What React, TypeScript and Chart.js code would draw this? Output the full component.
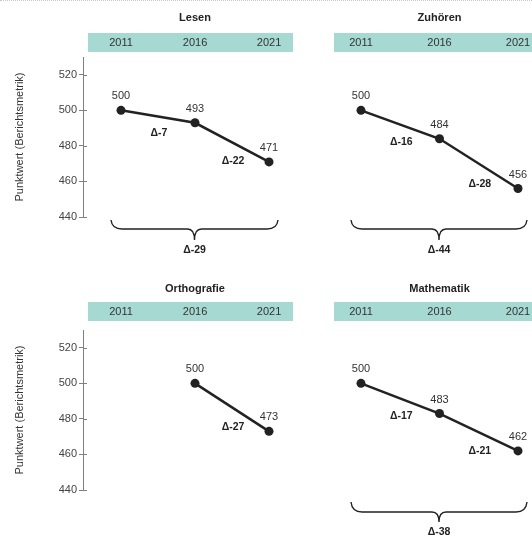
import React, { useEffect, useRef } from "react";
import { Chart, registerables } from "chart.js";

Chart.register(...registerables);

// ---------- data ----------
const years = [2011, 2016, 2021];
const subjectTitles = ["Lesen", "Zuhören", "Orthografie", "Mathematik"];
const lesenValues: (number | null)[] = [500, 493, 471];
const zuhoerenValues: (number | null)[] = [500, 484, 456];
const orthografieValues: (number | null)[] = [null, 500, 473];
const mathematikValues: (number | null)[] = [500, 483, 462];
const lesenSteps: (number | null)[] = [-7, -22];
const zuhoerenSteps: (number | null)[] = [-16, -28];
const orthografieSteps: (number | null)[] = [null, -27];
const mathematikSteps: (number | null)[] = [-17, -21];
const totalChanges: (number | null)[] = [-29, -44, null, -38];
const yTicks = [440, 460, 480, 500, 520];
const yMin = 440;
const yMax = 530;
const yTitle = "Punktwert (Berichtsmetrik)";

// ---------- styling / layout ----------
const FONT = '"Liberation Sans", Arial, sans-serif';
const BAND = "rgb(165, 217, 210)";
const INK = "#222";
const TEXT = "#333";
const AXIS = "#808080";

type Layout = {
  left: number; top: number; w: number; h: number;
  padTop: number; padBottom: number; padLeft: number;
  xMin: number; xMax: number; showY: boolean;
  bandL: number; bandR: number; bandTop: number; bandH: number; titleY: number;
  braceY: number; braceH1: number; braceH2: number;
};

const layouts: Layout[] = [
  { left: 0, top: 0, w: 300, h: 270, padTop: 57, padBottom: 53, padLeft: 0,
    xMin: 2008.432, xMax: 2023.094, showY: true,
    bandL: 88, bandR: 293, bandTop: 33, bandH: 19, titleY: 18,
    braceY: 220, braceH1: 9, braceH2: 11 },
  { left: 300, top: 0, w: 232, h: 270, padTop: 57, padBottom: 53, padLeft: 0,
    xMin: 2007.115, xMax: 2021.892, showY: false,
    bandL: 34, bandR: 260, bandTop: 33, bandH: 19, titleY: 18,
    braceY: 220, braceH1: 9, braceH2: 11 },
  { left: 0, top: 270, w: 300, h: 270, padTop: 60, padBottom: 50, padLeft: 0,
    xMin: 2008.432, xMax: 2023.094, showY: true,
    bandL: 88, bandR: 293, bandTop: 32, bandH: 19, titleY: 19,
    braceY: 232, braceH1: 10, braceH2: 10 },
  { left: 300, top: 270, w: 232, h: 270, padTop: 60, padBottom: 50, padLeft: 0,
    xMin: 2007.115, xMax: 2021.892, showY: false,
    bandL: 34, bandR: 260, bandTop: 32, bandH: 19, titleY: 19,
    braceY: 232, braceH1: 10, braceH2: 10 },
];

const seriesValues = [lesenValues, zuhoerenValues, orthografieValues, mathematikValues];
const seriesSteps = [lesenSteps, zuhoerenSteps, orthografieSteps, mathematikSteps];

function drawBrace(ctx: CanvasRenderingContext2D, x0: number, x1: number, y0: number, h1: number, h2: number) {
  const xc = (x0 + x1) / 2;
  const yl = y0 + h1;
  const r = 11;
  ctx.beginPath();
  ctx.moveTo(x0, y0);
  ctx.quadraticCurveTo(x0 + 1, yl, x0 + r, yl);
  ctx.lineTo(xc - 7, yl);
  ctx.quadraticCurveTo(xc, yl, xc, yl + h2);
  ctx.moveTo(xc, yl + h2);
  ctx.quadraticCurveTo(xc, yl, xc + 7, yl);
  ctx.lineTo(x1 - r, yl);
  ctx.quadraticCurveTo(x1 - 1, yl, x1, y0);
  ctx.stroke();
}

function Panel({ index }: { index: number }) {
  const ref = useRef<HTMLCanvasElement | null>(null);
  const L = layouts[index];
  useEffect(() => {
    if (!ref.current) return;
    const values = seriesValues[index];
    const steps = seriesSteps[index];
    const total = totalChanges[index];
    const title = subjectTitles[index];

    const deco = {
      id: "deco",
      beforeDraw(chart: any) {
        const ctx = chart.ctx as CanvasRenderingContext2D;
        const xs = chart.scales.x;
        ctx.save();
        ctx.fillStyle = BAND;
        ctx.fillRect(L.bandL, L.bandTop, L.bandR - L.bandL, L.bandH);
        ctx.textAlign = "center";
        ctx.textBaseline = "middle";
        ctx.fillStyle = TEXT;
        ctx.font = `11px ${FONT}`;
        years.forEach((y) => ctx.fillText(String(y), xs.getPixelForValue(y), L.bandTop + L.bandH / 2 + 0.5));
        ctx.fillStyle = INK;
        ctx.font = `bold 11px ${FONT}`;
        ctx.fillText(title, xs.getPixelForValue(years[1]), L.titleY);
        ctx.restore();
      },
      afterDraw(chart: any) {
        const ctx = chart.ctx as CanvasRenderingContext2D;
        const ys = chart.scales.y;
        const pts = chart.getDatasetMeta(0).data;
        ctx.save();
        if (L.showY) {
          ctx.strokeStyle = AXIS;
          ctx.lineWidth = 1;
          const ax = chart.chartArea.left;
          yTicks.forEach((v) => {
            const py = Math.round(ys.getPixelForValue(v)) + 0.5;
            ctx.beginPath();
            ctx.moveTo(ax, py);
            ctx.lineTo(ax + 4, py);
            ctx.stroke();
          });
        }
        ctx.textAlign = "center";
        ctx.textBaseline = "middle";
        // value labels
        ctx.fillStyle = TEXT;
        ctx.font = `11px ${FONT}`;
        values.forEach((v, i) => {
          if (v == null) return;
          const p = pts[i];
          ctx.fillText(String(v), p.x, p.y - 14);
        });
        // step deltas
        ctx.fillStyle = INK;
        ctx.font = `bold 10.5px ${FONT}`;
        steps.forEach((d, i) => {
          if (d == null) return;
          const a = pts[i];
          const b = pts[i + 1];
          const mx = (a.x + b.x) / 2 + 1;
          const dy = Math.abs(b.y - a.y);
          const my = (a.y + b.y) / 2 + 15 + 0.1 * dy;
          ctx.fillText(`Δ${d}`, mx, my);
        });
        // total brace
        if (total != null) {
          const valid = values.map((v, i) => (v == null ? -1 : i)).filter((i) => i >= 0);
          const x0 = pts[valid[0]].x - 10;
          const x1 = pts[valid[valid.length - 1]].x + 9;
          ctx.strokeStyle = INK;
          ctx.lineWidth = 1.4;
          drawBrace(ctx, x0, x1, L.braceY, L.braceH1, L.braceH2);
          ctx.fillText(`Δ${total}`, (x0 + x1) / 2, L.braceY + L.braceH1 + L.braceH2 + 10);
        }
        ctx.restore();
      },
    };

    const chart = new Chart(ref.current, {
      type: "line",
      data: {
        datasets: [
          {
            data: years.map((x, i) => ({ x, y: values[i] })) as any,
            borderColor: INK,
            backgroundColor: INK,
            borderWidth: 2.5,
            pointRadius: 4.5,
            pointBackgroundColor: INK,
            pointBorderColor: INK,
            pointBorderWidth: 0,
            tension: 0,
            clip: false as any,
          },
        ],
      },
      options: {
        responsive: false,
        animation: false,
        events: [],
        layout: {
          autoPadding: false,
          padding: { top: L.padTop, bottom: L.padBottom, left: L.padLeft, right: 0 },
        },
        plugins: { legend: { display: false }, tooltip: { enabled: false }, title: { display: false } },
        scales: {
          x: { type: "linear", display: false, min: L.xMin, max: L.xMax },
          y: {
            type: "linear",
            display: L.showY,
            min: yMin,
            max: yMax,
            afterBuildTicks: (s: any) => {
              s.ticks = yTicks.map((v) => ({ value: v }));
            },
            afterFit: (s: any) => {
              s.width = L.showY ? 83 : 0;
            },
            border: { display: true, color: AXIS, width: 1 },
            grid: { drawOnChartArea: false, drawTicks: true, tickLength: 4, color: AXIS },
            ticks: { color: "#444", font: { family: FONT, size: 11 }, padding: 2 },
            title: {
              display: true,
              text: yTitle,
              color: TEXT,
              font: { family: FONT, size: 11 },
              padding: { top: 13, bottom: 0 },
            },
          },
        },
      },
      plugins: [deco],
    });
    return () => chart.destroy();
  }, [index]);

  return (
    <canvas
      ref={ref}
      width={L.w}
      height={L.h}
      style={{ position: "absolute", left: L.left, top: L.top, width: L.w, height: L.h }}
    />
  );
}

export default function App() {
  return (
    <div style={{ position: "absolute", left: 0, top: 0, width: 532, height: 540, background: "#fff", overflow: "hidden" }}>
      <div style={{ position: "absolute", left: 0, top: 0, width: 532, height: 0, borderTop: "1px dotted #c8c8c8" }} />
      {[0, 1, 2, 3].map((i) => (
        <Panel key={i} index={i} />
      ))}
    </div>
  );
}
